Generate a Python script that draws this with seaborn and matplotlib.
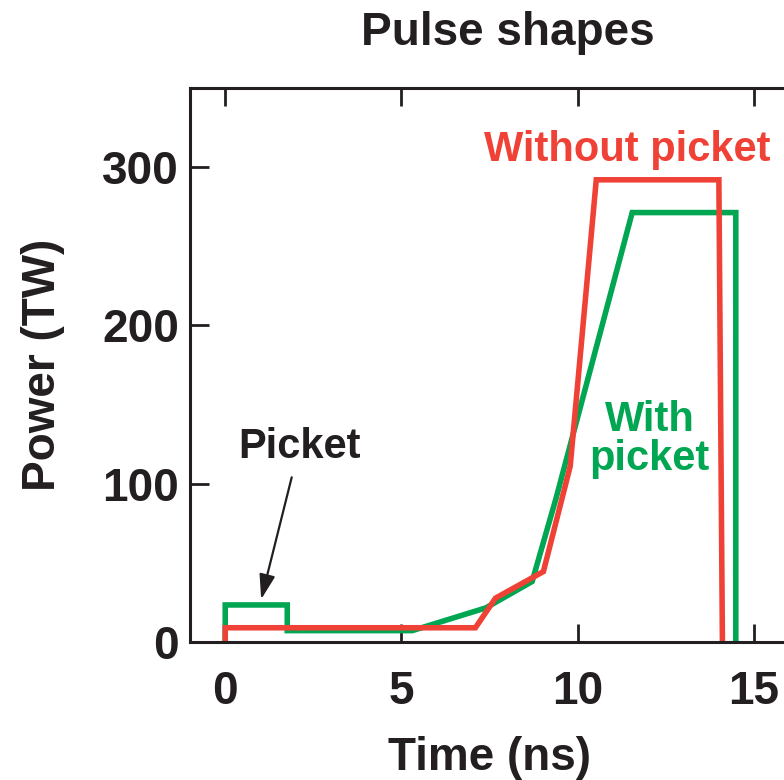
import pandas as pd
import matplotlib
matplotlib.use("Agg")
import matplotlib.pyplot as plt
import seaborn as sns

# Pulse shapes (time in ns, power in TW)
with_time = [0.0, 0.0, 1.76, 1.76, 5.31, 7.39, 8.71, 9.39, 11.55, 14.49, 14.49]
with_power = [0.0, 23.4, 23.4, 7.2, 7.2, 21.5, 38.2, 90.9, 271.3, 271.3, 0.0]

without_time = [0.0, 0.0, 7.10, 7.67, 9.03, 9.79, 10.53, 14.01, 14.11]
without_power = [0.0, 9.0, 9.0, 27.7, 44.5, 111.0, 292.0, 292.0, 0.0]

x_ticks = [0, 5, 10, 15]
y_ticks = [0, 100, 200, 300]

RED = "#EF4136"
GREEN = "#00A651"
INK = "#231F20"


def main():
    sns.set_theme(style="ticks")
    plt.rcParams["font.family"] = ["Liberation Sans", "DejaVu Sans"]
    plt.rcParams["font.weight"] = "bold"

    df_with = pd.DataFrame({"t": with_time, "p": with_power})
    df_without = pd.DataFrame({"t": without_time, "p": without_power})

    fig = plt.figure(figsize=(7.84, 7.80), dpi=100)
    # axes run past the right edge of the figure, like the cropped original
    ax = fig.add_axes([190 / 784, 138 / 780, 599 / 784, 554 / 780])

    sns.lineplot(data=df_with, x="t", y="p", sort=False, estimator=None,
                 color=GREEN, lw=4.0, ax=ax, solid_joinstyle="miter")
    sns.lineplot(data=df_without, x="t", y="p", sort=False, estimator=None,
                 color=RED, lw=4.0, ax=ax, solid_joinstyle="miter")

    ax.set_xlim(-1, 16)
    ax.set_ylim(0, 350)
    ax.set_xticks(x_ticks)
    ax.set_yticks(y_ticks)

    for side in ["left", "bottom", "top", "right"]:
        ax.spines[side].set_linewidth(2.2)
        ax.spines[side].set_color(INK)

    ax.tick_params(axis="x", direction="in", length=13, width=2, pad=20,
                   top=True, labelsize=33, colors=INK)
    ax.tick_params(axis="y", direction="in", length=14, width=2, pad=8,
                   labelsize=33, colors=INK)
    for lab in ax.get_xticklabels() + ax.get_yticklabels():
        lab.set_fontweight("bold")

    ax.set_xlabel("Time (ns)", fontsize=33, fontweight="bold", color=INK, labelpad=16)
    ax.set_ylabel("Power (TW)", fontsize=33, fontweight="bold", color=INK, labelpad=27)

    fig.text(508 / 784, 1 - 33 / 780, "Pulse shapes", ha="center", va="center",
             fontsize=33, fontweight="bold", color=INK)

    ax.text(11.4, 311, "Without picket", ha="center", va="center",
            fontsize=30, fontweight="bold", color=RED)
    ax.text(12.05, 128, "With\npicket", ha="center", va="center",
            fontsize=30, fontweight="bold", color=GREEN, linespacing=0.95)

    ax.annotate("Picket", xy=(1.02, 27), xytext=(2.1, 123),
                ha="center", va="center", fontsize=30, fontweight="bold", color=INK,
                arrowprops=dict(arrowstyle="-|>,head_length=0.5,head_width=0.16",
                                color=INK, lw=1.6, shrinkA=5, shrinkB=0))

    fig.savefig("out.png", dpi=100)
    plt.close(fig)


if __name__ == "__main__":
    main()
